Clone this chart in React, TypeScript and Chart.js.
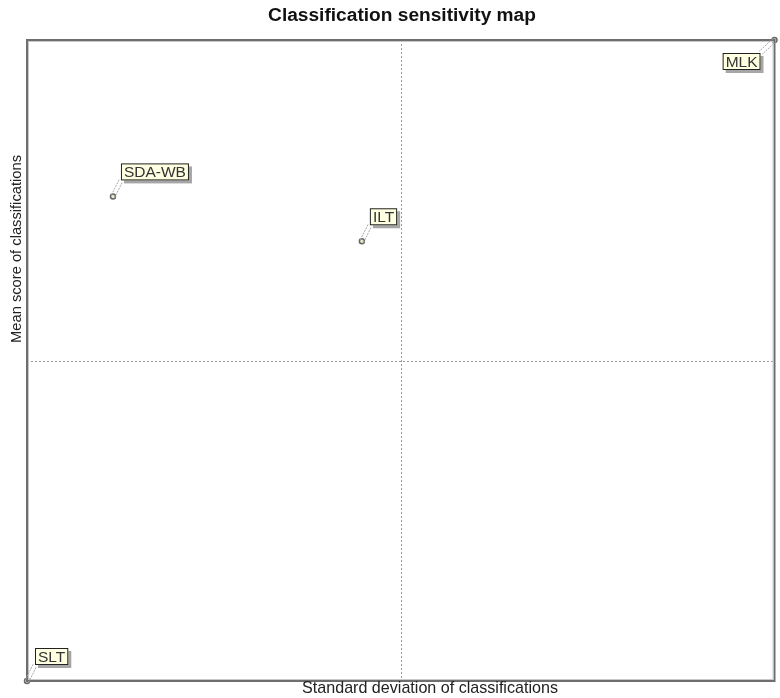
import React, { useEffect, useRef } from "react";
import { Chart, registerables } from "chart.js";

Chart.register(...registerables);

const labels = ["SLT", "SDA-WB", "ILT", "MLK"];
const stdDev = [0.0, 0.115, 0.448, 1.0];
const meanScore = [0.0, 0.756, 0.686, 1.0];

const titleText = "Classification sensitivity map";
const xTitle = "Standard deviation of classifications";
const yTitle = "Mean score of classifications";

function fitFont(ctx: CanvasRenderingContext2D, text: string, weight: string, target: number) {
  ctx.font = `${weight} 20px "Liberation Sans", Arial, sans-serif`;
  const w = ctx.measureText(text).width;
  const size = (20 * target) / w;
  return `${weight} ${size.toFixed(2)}px "Liberation Sans", Arial, sans-serif`;
}

const decorPlugin = {
  id: "decor",
  afterDraw(chart: any) {
    const { ctx, chartArea, scales } = chart;
    const { left, right, top, bottom } = chartArea;
    const x = scales.x;
    const y = scales.y;
    ctx.save();
    // quadrant lines
    ctx.strokeStyle = "#9a9a9a";
    ctx.lineWidth = 1;
    ctx.setLineDash([2, 2]);
    const cx = Math.round(x.getPixelForValue(0.5)) + 0.5;
    const cy = Math.round(y.getPixelForValue(0.5)) + 0.5;
    ctx.beginPath();
    ctx.moveTo(cx, top);
    ctx.lineTo(cx, bottom);
    ctx.moveTo(left, cy);
    ctx.lineTo(right, cy);
    ctx.stroke();
    ctx.setLineDash([]);
    // frame
    ctx.strokeStyle = "#6e6e6e";
    ctx.lineWidth = 2;
    ctx.strokeRect(left, top, right - left, bottom - top);
    ctx.strokeStyle = "#c8c8c8";
    ctx.lineWidth = 1;
    ctx.strokeRect(left + 1.5, top + 1.5, right - left - 3, bottom - top - 3);

    // labels
    const lblFont = fitFont(ctx, "SDA-WB", "normal", 62);
    for (let i = 0; i < labels.length; i++) {
      const px = x.getPixelForValue(stdDev[i]);
      const py = y.getPixelForValue(meanScore[i]);
      ctx.font = lblFont;
      const tw = ctx.measureText(labels[i]).width;
      const bw = tw + 6;
      const bh = 17;
      let bx = px + 8;
      let by = py - 16 - bh;
      let ax = bx;
      let ay = by + bh;
      if (bx + bw > right - 2) {
        bx = px - 14 - bw;
        by = py + 13;
        ax = bx + bw;
        ay = by;
      }
      // leader
      ctx.strokeStyle = "#a8a8a8";
      ctx.lineWidth = 1;
      ctx.setLineDash([2, 1]);
      ctx.beginPath();
      ctx.moveTo(px - 1.5, py - 1.5);
      ctx.lineTo(ax - 1.5, ay - 1.5);
      ctx.moveTo(px + 1.5, py + 1.5);
      ctx.lineTo(ax + 1.5, ay + 1.5);
      ctx.stroke();
      ctx.setLineDash([]);
      // shadow
      ctx.fillStyle = "rgba(0,0,0,0.35)";
      ctx.fillRect(bx + 3, by + 3, bw, bh);
      // box
      ctx.fillStyle = "#ffffe1";
      ctx.fillRect(bx, by, bw, bh);
      ctx.strokeStyle = "#222";
      ctx.lineWidth = 1;
      ctx.strokeRect(bx + 0.5, by + 0.5, bw - 1, bh - 1);
      ctx.fillStyle = "#333";
      ctx.textAlign = "center";
      ctx.textBaseline = "middle";
      ctx.fillText(labels[i], bx + bw / 2, by + bh / 2 + 1);
    }

    // titles
    ctx.fillStyle = "#111";
    ctx.textAlign = "center";
    ctx.textBaseline = "middle";
    ctx.font = fitFont(ctx, titleText, "bold", 268);
    ctx.fillText(titleText, 402, 16);
    ctx.fillStyle = "#222";
    ctx.font = fitFont(ctx, xTitle, "normal", 256);
    ctx.fillText(xTitle, 430, 689);
    ctx.save();
    ctx.translate(17, 249);
    ctx.rotate(-Math.PI / 2);
    ctx.font = fitFont(ctx, yTitle, "normal", 188);
    ctx.fillText(yTitle, 0, 0);
    ctx.restore();
    ctx.restore();
  },
};

export default function App() {
  const ref = useRef<HTMLCanvasElement | null>(null);
  useEffect(() => {
    document.body.style.margin = "0";
    const canvas = ref.current!;
    const chart = new Chart(canvas, {
      type: "scatter",
      data: {
        labels,
        datasets: [
          {
            data: stdDev.map((v, i) => ({ x: v, y: meanScore[i] })),
            pointRadius: 2.5,
            pointBorderWidth: 1.5,
            pointBorderColor: "#666",
            pointBackgroundColor: "#e8e8c8",
            clip: false,
          },
        ],
      },
      options: {
        responsive: false,
        animation: false,
        layout: { padding: { left: 19, right: 0, top: 40, bottom: 9 } },
        plugins: { legend: { display: false }, tooltip: { enabled: false }, title: { display: false } },
        scales: {
          x: {
            type: "linear",
            min: 0,
            max: 1,
            ticks: { display: false },
            grid: { display: false },
            border: { display: false },
          },
          y: {
            type: "linear",
            min: 0,
            max: 1,
            ticks: { display: false },
            grid: { display: false },
            border: { display: false },
          },
        },
      },
      plugins: [decorPlugin],
    });
    return () => chart.destroy();
  }, []);
  return (
    <div style={{ width: 780, height: 698, background: "#fff" }}>
      <canvas ref={ref} width={780} height={698} style={{ display: "block" }} />
    </div>
  );
}
